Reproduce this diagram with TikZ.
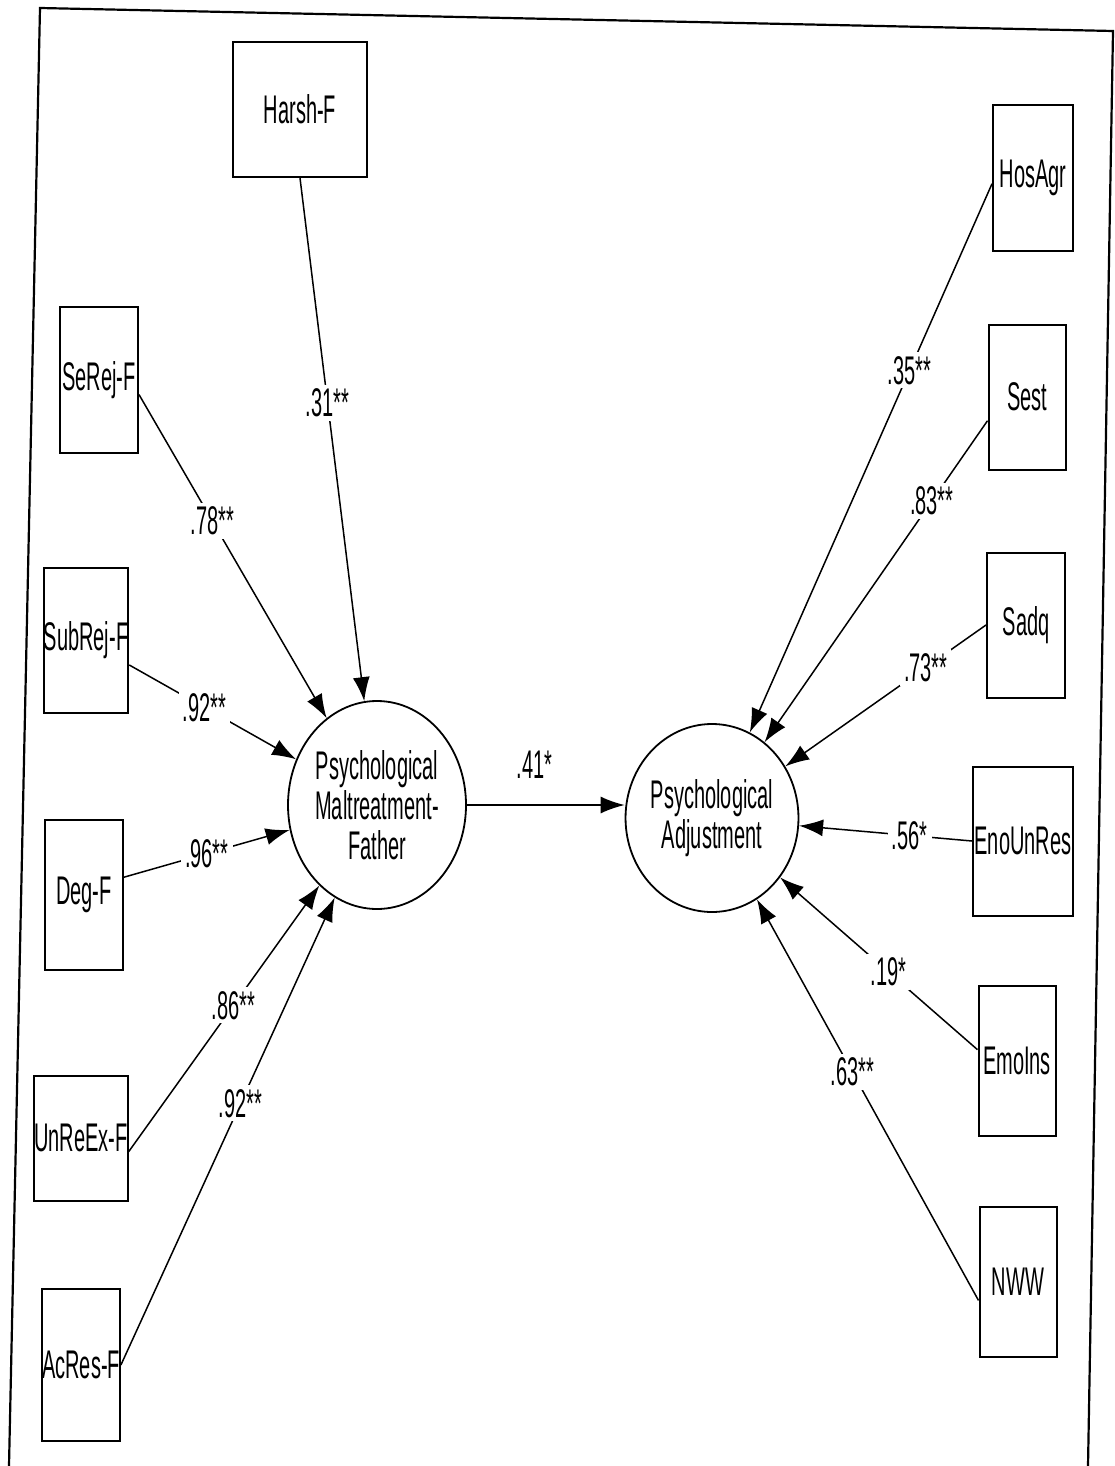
\documentclass[tikz,border=0pt]{standalone}
\usepackage{fontspec}
\usepackage{tikz}
\usetikzlibrary{shapes.geometric,arrows.meta,positioning}
\newfontfamily\narrowsf[FakeStretch=0.5]{Liberation Sans}

\begin{document}
\begin{tikzpicture}[x=1pt, y=-1pt,
    every node/.style={font=\narrowsf\fontsize{40}{40}\selectfont},
    obs/.style={draw, line width=2pt, minimum width=78pt, minimum height=148pt, inner sep=0pt},
    lat/.style={draw, ellipse, line width=1.8pt, inner sep=0pt, align=center},
    load/.style={line width=1.5pt, -{Latex[length=24pt,width=17pt]}},
    coef/.style={fill=white, inner sep=4pt}]
    \useasboundingbox (0,0) rectangle (1115,1466);
    \draw[line width=2.2pt] (9,1466) -- (40,8) -- (1113,31) -- (1088,1466);

    \node[obs, minimum width=134pt, minimum height=135pt] (harsh) at (300,109.5) {Harsh-F};
    \node[obs, minimum height=146pt] (serej) at (99,380) {SeRej-F};
    \node[obs, minimum height=145pt] (subrej) at (86,640) {SubRej-F};
    \node[obs, minimum height=150pt] (deg) at (84,895) {Deg-F};
    \node[obs, minimum width=86pt, minimum height=125pt] (unreex) at (81,1138) {UnReEx-F};
    \node[obs, minimum width=77pt, minimum height=152pt] (acres) at (81,1365) {AcRes-F};

    \node[obs, minimum width=80pt, minimum height=146pt] (hosagr) at (1033,178) {HosAgr};
    \node[obs, minimum width=77pt, minimum height=145pt] (sest) at (1027,397) {Sest};
    \node[obs, minimum height=145pt] (sadq) at (1026,625) {Sadq};
    \node[obs, minimum width=100pt, minimum height=149pt] (enounres) at (1023,841) {EnoUnRes};
    \node[obs, minimum width=77pt, minimum height=150pt] (emoins) at (1017,1061) {EmoIns};
    \node[obs, minimum width=77pt, minimum height=150pt] (nww) at (1018,1282) {NWW};

    \node[lat, minimum width=178pt, minimum height=208pt] (pmf) at (377,805) {Psychological\\Maltreatment-\\Father};
    \node[lat, minimum width=158pt, minimum height=188pt] (pa) at (712,818) {Psychological\\Adjustment};

    \draw[load] (harsh.south) -- node[coef, pos=0.43] {.31**} (pmf);
    \draw[load] (serej.-20) -- node[coef, pos=0.39] {.78**} (pmf);
    \draw[load] (subrej.-30) -- node[coef, pos=0.45] {.92**} (pmf);
    \draw[load] (deg.24) -- node[coef, pos=0.5] {.96**} (pmf);
    \draw[load] (unreex.-16) -- node[coef, pos=0.55] {.86**} (pmf);
    \draw[load] (acres.east) -- node[coef, pos=0.56] {.92**} (pmf);
    \draw[load] (pmf.east) -- node[coef, above=22pt, pos=0.43] {.41*} (pa.west |- pmf.east);

    \draw[load] (hosagr.188) -- node[coef, pos=0.34] {.35**} (pa);
    \draw[load] (sest.211) -- node[coef, pos=0.25] {.83**} (pa);
    \draw[load] (sadq.west) -- node[coef, pos=0.3] {.73**} (pa);
    \draw[load] (enounres.west) -- node[coef, pos=0.36] {.56*} (pa);
    \draw[load] (emoins.164) -- node[coef, pos=0.45] {.19*} (pa);
    \draw[load] (nww.205) -- node[coef, pos=0.57] {.63**} (pa);
\end{tikzpicture}
\end{document}
